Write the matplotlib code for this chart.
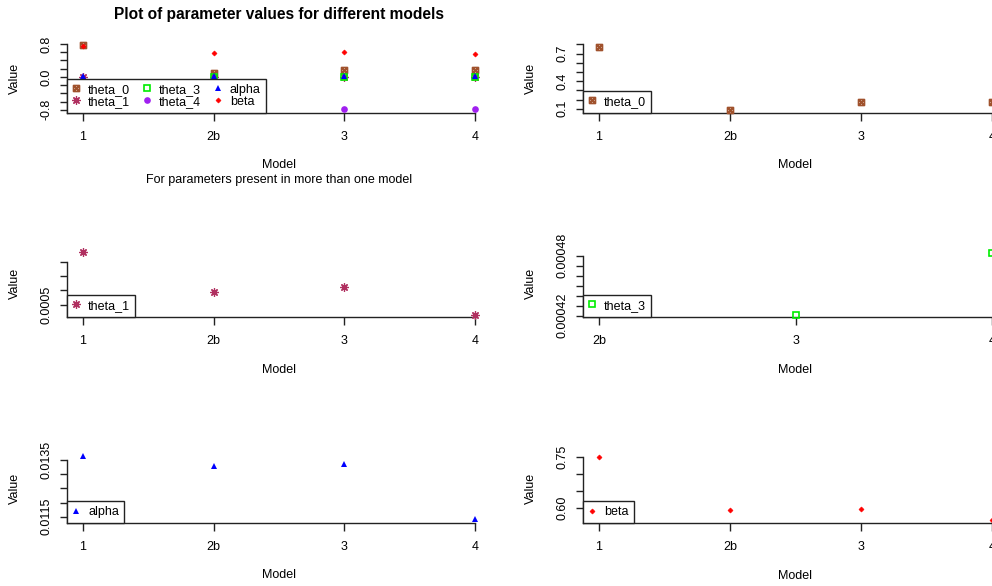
import numpy as np
import matplotlib
matplotlib.use("Agg")
import matplotlib.pyplot as plt
from matplotlib.path import Path
from matplotlib.lines import Line2D

plt.rcParams["font.family"] = ["Liberation Sans", "DejaVu Sans"]
plt.rcParams["font.size"] = 9

# values, one per model (nan = not in that model)
models = ["1", "2b", "3", "4"]
theta_0 = [0.772, 0.085, 0.176, 0.177]
theta_1 = [0.00087, 0.000589, 0.000621, 0.00043]
theta_3 = [np.nan, 0.000423, 0.000421, 0.000483]
theta_4 = [np.nan, np.nan, -0.785, -0.785]
alpha = [0.01364, 0.0133, 0.01336, 0.01141]
beta = [0.75, 0.593, 0.595, 0.564]

params = {"theta_0": theta_0, "theta_1": theta_1, "theta_3": theta_3,
          "theta_4": theta_4, "alpha": alpha, "beta": beta}

# y axis ticks and the labels R managed to print
ticks_all = [-0.8, -0.6, -0.4, -0.2, 0.0, 0.2, 0.4, 0.6, 0.8]
labels_all = ["-0.8", "", "", "", "0.0", "", "", "", "0.8"]
ticks_t0 = [0.1, 0.2, 0.3, 0.4, 0.5, 0.6, 0.7, 0.8]
labels_t0 = ["0.1", "", "", "0.4", "", "", "0.7", ""]
ticks_t1 = [0.0005, 0.0006, 0.0007, 0.0008]
labels_t1 = ["0.0005", "", "", ""]
ticks_t3 = [0.00042, 0.00043, 0.00044, 0.00045, 0.00046, 0.00047, 0.00048]
labels_t3 = ["0.00042", "", "", "", "", "", "0.00048"]
ticks_al = [0.0115, 0.0120, 0.0125, 0.0130, 0.0135]
labels_al = ["0.0115", "", "", "", "0.0135"]
ticks_be = [0.60, 0.65, 0.70, 0.75]
labels_be = ["0.60", "", "", "0.75"]

# square with a cross (R pch 7)
sq_x = Path([(-1, -1), (1, -1), (1, 1), (-1, 1), (-1, -1),
             (-1, -1), (1, 1), (-1, 1), (1, -1)],
            [Path.MOVETO, Path.LINETO, Path.LINETO, Path.LINETO, Path.CLOSEPOLY,
             Path.MOVETO, Path.LINETO, Path.MOVETO, Path.LINETO])

styles = {
    "theta_0": dict(marker=sq_x, color="#a0522d", mfc="none", ms=4.2, mew=1.3),
    "theta_1": dict(marker=(8, 2, 0), color="#b03060", ms=6, mew=0.9),
    "theta_3": dict(marker="s", color="#00ee00", mfc="none", ms=4.6, mew=1.2),
    "theta_4": dict(marker="o", color="#a020f0", ms=4.8, mew=0),
    "alpha": dict(marker="^", color="#0000ff", ms=4.8, mew=0),
    "beta": dict(marker="D", color="#ff0000", ms=2.6, mew=0.4),
}

W, H = 992, 586
fig = plt.figure(figsize=(W / 100, H / 100), dpi=100)


def panel(box, xlim, names, ylim, yticks, ylabels, xcats, model_x, model_y, value_x, value_y,
          ncol=1):
    left, top, right, bottom = box
    ax = fig.add_axes([left / W, 1 - bottom / H, (right - left) / W, (bottom - top) / H])
    xpos = np.arange(1, len(xcats) + 1)
    for name in names:
        vals = params[name]
        if len(xcats) < len(models):
            vals = vals[len(models) - len(xcats):]
        ax.plot(xpos, vals, linestyle="none", clip_on=False, zorder=3, **styles[name])
    ax.set_xlim(xlim)
    ax.set_ylim(ylim)
    ax.set_xticks(xpos)
    ax.set_xticklabels(xcats)
    ax.set_yticks(yticks)
    ax.set_yticklabels(ylabels, rotation=90, va="center")
    for s in ["top", "right"]:
        ax.spines[s].set_visible(False)
    for s in ["left", "bottom"]:
        ax.spines[s].set_linewidth(1.0)
        ax.spines[s].set_color("#222222")
    ax.tick_params(axis="x", length=5.5, width=1.0, pad=7.5, color="#222222")
    ax.tick_params(axis="y", length=5, width=1.0, pad=5.5, color="#222222")
    ax.patch.set_alpha(0)
    handles = [Line2D([], [], linestyle="none", **styles[n]) for n in names]
    leg = ax.legend(handles, names, loc="lower left", bbox_to_anchor=(0, 0),
                    borderaxespad=0, ncol=ncol, fancybox=False, framealpha=1,
                    edgecolor="#222222", handlelength=0.7, handletextpad=0.6,
                    columnspacing=1.0, labelspacing=0.0, borderpad=0.4,
                    fontsize=9)
    leg.get_frame().set_linewidth(1.0)
    leg.set_zorder(5)
    fig.text(value_x / W, 1 - value_y / H, "Value", rotation=90, ha="center", va="center")
    fig.text(model_x / W, 1 - model_y / H, "Model", ha="center", va="center")
    return ax


all_names = ["theta_0", "theta_1", "theta_3", "theta_4", "alpha", "beta"]
panel((67, 44, 475, 112.7), (0.878, 4), all_names, (-0.87, 0.8), ticks_all, labels_all,
      models, 279, 164.5, 15, 78.5, ncol=3)
panel((583, 44.3, 992, 112.7), (0.878, 4), ["theta_0"], (0.057, 0.8), ticks_t0, labels_t0,
      models, 795, 165, 531, 78.5)
panel((67, 261.7, 475, 316.7), (0.878, 4), ["theta_1"], (0.000418, 0.0008), ticks_t1, labels_t1,
      models, 279, 370, 15, 283)
panel((583, 255.7, 992, 316.7), (0.918, 3), ["theta_3"], (0.000419, 0.00048), ticks_t3, labels_t3,
      models[1:], 795, 370, 531, 283)
panel((67, 460, 475, 523.3), (0.878, 4), ["alpha"], (0.01127, 0.0135), ticks_al, labels_al,
      models, 279, 575.5, 15, 488)
panel((583, 457, 992, 523.3), (0.878, 4), ["beta"], (0.554, 0.75), ticks_be, labels_be,
      models, 795, 576, 531, 488)

fig.text(279 / W, 1 - 15 / H, "Plot of parameter values for different models",
         ha="center", va="center", fontsize=11.2, fontweight="bold")
fig.text(279 / W, 1 - 180 / H, "For parameters present in more than one model",
         ha="center", va="center")

fig.savefig("out.png", dpi=100)
